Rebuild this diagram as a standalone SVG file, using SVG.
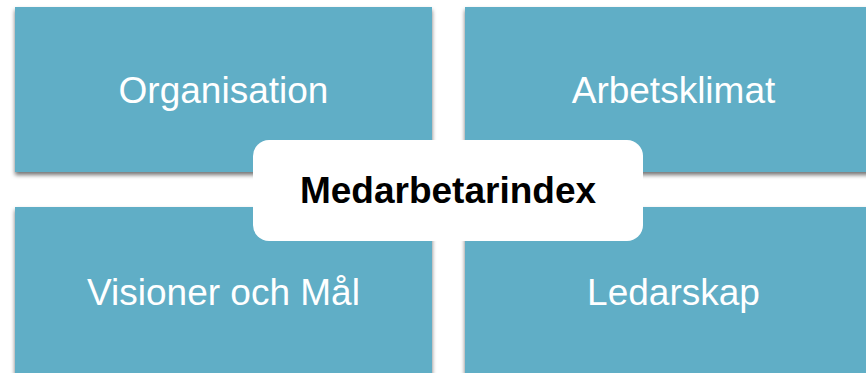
<svg xmlns="http://www.w3.org/2000/svg" width="866" height="373" viewBox="0 0 866 373">
<defs>
<filter id="sh" x="-5%" y="-5%" width="110%" height="115%">
<feDropShadow dx="0" dy="3" stdDeviation="2" flood-color="#000" flood-opacity="0.55"/>
</filter>
<style>
.box{fill:#60AEC6;filter:url(#sh);}
.lbl{font-family:"Liberation Sans",Arial,sans-serif;font-size:37px;fill:#fff;text-anchor:middle;}
.ctr{font-family:"Liberation Sans",Arial,sans-serif;font-size:37px;font-weight:bold;fill:#000;text-anchor:middle;}
</style>
</defs>
<rect width="866" height="373" fill="#fff"/>
<g id="organisation">
<rect class="box" x="15" y="7" width="417" height="165"/>
<text class="lbl" x="223.5" y="103">Organisation</text>
</g>
<g id="arbetsklimat">
<rect class="box" x="465" y="7" width="417" height="165"/>
<text class="lbl" x="673.5" y="103">Arbetsklimat</text>
</g>
<g id="visioner">
<rect class="box" x="15" y="207" width="417" height="175"/>
<text class="lbl" x="223.5" y="305">Visioner och Mål</text>
</g>
<g id="ledarskap">
<rect class="box" x="465" y="207" width="417" height="175"/>
<text class="lbl" x="673.5" y="305">Ledarskap</text>
</g>
<g id="connectors"></g>
<g id="medarbetarindex">
<rect x="253" y="140" width="390" height="101" rx="16" fill="#fff"/>
<text class="ctr" x="448" y="203">Medarbetarindex</text>
</g>
</svg>
